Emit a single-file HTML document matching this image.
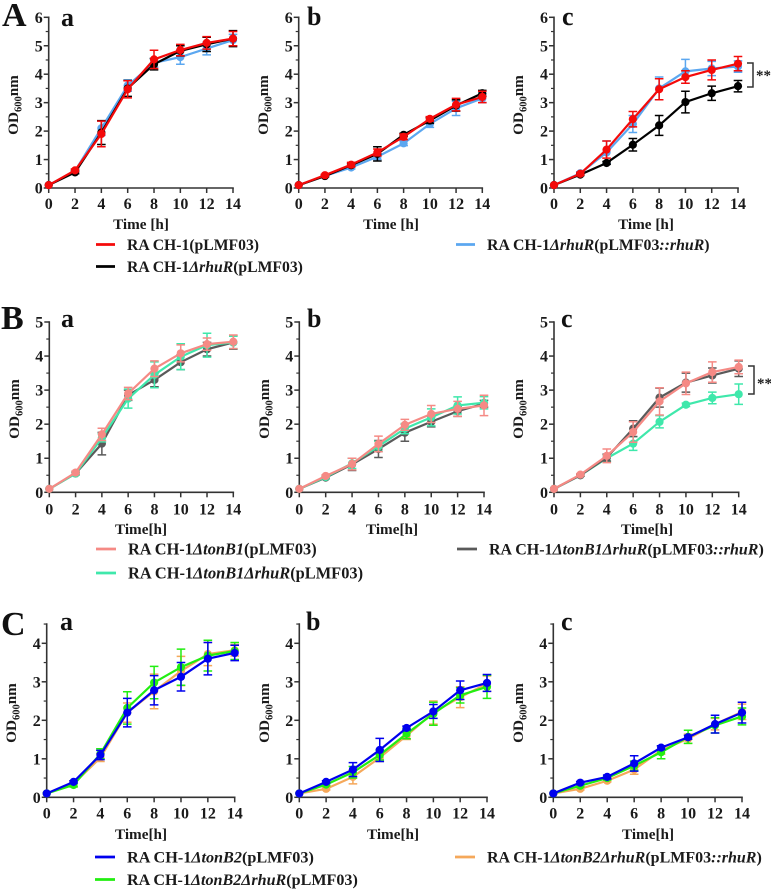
<!DOCTYPE html>
<html lang="en">
<head>
<meta charset="utf-8">
<title>Growth curves</title>
<style>
html,body{margin:0;padding:0;background:#fff;width:771px;height:890px;overflow:hidden}
svg{display:block}
text{font-family:"Liberation Serif",serif;font-weight:bold;fill:#1a1a1a}
.leg{font-size:15.7px}
.big{font-size:34px;fill:#111}
.small{font-size:26px;fill:#111}
.tick{font-size:16px;text-anchor:middle}
.ytick{font-size:16px;text-anchor:end}
.title{font-size:15.2px;text-anchor:middle}
</style>
</head>
<body>
<svg id="fig" xmlns="http://www.w3.org/2000/svg" width="771" height="890" viewBox="0 0 771 890">
  <text class="big" x="2" y="26">A</text>
  <text class="big" x="1" y="329">B</text>
  <text class="big" x="1" y="635">C</text>

  <text class="small" x="61" y="26">a</text>
  <text class="small" x="307" y="25">b</text>
  <text class="small" x="562" y="25">c</text>
  <text class="small" x="61" y="327">a</text>
  <text class="small" x="307" y="327">b</text>
  <text class="small" x="561" y="327">c</text>
  <text class="small" x="60" y="630">a</text>
  <text class="small" x="306" y="630">b</text>
  <text class="small" x="561" y="630">c</text>

  <g>
    <line x1="96" x2="115" y1="244.5" y2="244.5" stroke="#f40a0a" stroke-width="2.8"/>
    <text class="leg" x="127" y="250">RA CH-1(pLMF03)</text>
    <line x1="96" x2="115" y1="266.5" y2="266.5" stroke="#000" stroke-width="2.8"/>
    <text class="leg" x="127" y="272">RA CH-1<tspan font-style="italic">ΔrhuR</tspan>(pLMF03)</text>
    <line x1="456" x2="475" y1="244.5" y2="244.5" stroke="#5ba7f0" stroke-width="2.8"/>
    <text class="leg" style="font-size:15.85px" x="487" y="250">RA CH-1<tspan font-style="italic">ΔrhuR</tspan>(pLMF03<tspan font-style="italic">::rhuR</tspan>)</text>
  </g>
  <g>
    <line x1="96" x2="116" y1="549" y2="549" stroke="#f58a85" stroke-width="2.8"/>
    <text class="leg" style="font-size:16.35px" x="128" y="554.5">RA CH-1<tspan font-style="italic">ΔtonB1</tspan>(pLMF03)</text>
    <line x1="96" x2="116" y1="573" y2="573" stroke="#3fe8ab" stroke-width="2.8"/>
    <text class="leg" style="font-size:16.4px" x="128" y="578.5">RA CH-1<tspan font-style="italic">ΔtonB1ΔrhuR</tspan>(pLMF03)</text>
    <line x1="457" x2="477" y1="549" y2="549" stroke="#5a5a5a" stroke-width="2.8"/>
    <text class="leg" style="font-size:16px" x="489" y="554.5">RA CH-1<tspan font-style="italic">ΔtonB1ΔrhuR</tspan>(pLMF03<tspan font-style="italic">::rhuR</tspan>)</text>
  </g>
  <g>
    <line x1="95" x2="115" y1="857" y2="857" stroke="#0000ee" stroke-width="2.8"/>
    <text class="leg" style="font-size:16.2px" x="127" y="862.5">RA CH-1<tspan font-style="italic">ΔtonB2</tspan>(pLMF03)</text>
    <line x1="95" x2="115" y1="879.5" y2="879.5" stroke="#22ee11" stroke-width="2.8"/>
    <text class="leg" style="font-size:16.1px" x="127" y="885">RA CH-1<tspan font-style="italic">ΔtonB2ΔrhuR</tspan>(pLMF03)</text>
    <line x1="455" x2="475" y1="857" y2="857" stroke="#f5a85a" stroke-width="2.8"/>
    <text class="leg" style="font-size:16px" x="487" y="862.5">RA CH-1<tspan font-style="italic">ΔtonB2ΔrhuR</tspan>(pLMF03<tspan font-style="italic">::rhuR</tspan>)</text>
  </g>

  <g>
    <path d="M747 63H753V87H747" fill="none" stroke="#333" stroke-width="1.5"/>
    <text x="756" y="80" font-size="15">**</text>
  </g>
  <g>
    <path d="M748 366H754V394H748" fill="none" stroke="#333" stroke-width="1.5"/>
    <text x="757" y="388" font-size="15">**</text>
  </g>
</svg>
<script>
const hours = [0, 2, 4, 6, 8, 10, 12, 14];
const xTickLabels = ['0', '2', '4', '6', '8', '10', '12', '14'];
const yTicksA = [0, 1, 2, 3, 4, 5, 6];
const yTicksB = [0, 1, 2, 3, 4, 5];
const yTicksC = [0, 1, 2, 3, 4];

const redColor = '#f40a0a', blackColor = '#000000', skyColor = '#5ba7f0';
const salmonColor = '#f58a85', mintColor = '#3fe8ab', greyColor = '#5a5a5a';
const blueColor = '#0000ee', limeColor = '#22ee11', orangeColor = '#f5a85a';

/* Panel A a */
const Aa_sky = [0.1, 0.6, 2.1, 3.6, 4.4, 4.6, 4.9, 5.2];
const Aa_skyErr = [0, 0.05, 0.25, 0.2, 0.15, 0.25, 0.22, 0.2];
const Aa_black = [0.1, 0.55, 1.95, 3.5, 4.35, 4.82, 5.05, 5.25];
const Aa_blackErr = [0, 0.05, 0.42, 0.28, 0.2, 0.18, 0.25, 0.28];
const Aa_red = [0.1, 0.62, 1.9, 3.47, 4.52, 4.85, 5.1, 5.25];
const Aa_redErr = [0, 0.05, 0.45, 0.3, 0.32, 0.2, 0.22, 0.25];
/* Panel A b */
const Ab_sky = [0.1, 0.43, 0.72, 1.1, 1.57, 2.25, 2.8, 3.15];
const Ab_skyErr = [0, 0.03, 0.05, 0.1, 0.08, 0.12, 0.25, 0.15];
const Ab_black = [0.1, 0.42, 0.8, 1.2, 1.87, 2.37, 2.9, 3.33];
const Ab_blackErr = [0, 0.03, 0.05, 0.25, 0.05, 0.1, 0.2, 0.1];
const Ab_red = [0.1, 0.45, 0.82, 1.25, 1.8, 2.43, 2.93, 3.2];
const Ab_redErr = [0, 0.03, 0.08, 0.12, 0.1, 0.08, 0.22, 0.2];
/* Panel A c */
const Ac_sky = [0.1, 0.52, 1.25, 2.25, 3.5, 4.1, 4.2, 4.27];
const Ac_skyErr = [0, 0.05, 0.4, 0.3, 0.4, 0.42, 0.25, 0.2];
const Ac_black = [0.1, 0.47, 0.88, 1.52, 2.2, 3.02, 3.33, 3.58];
const Ac_blackErr = [0, 0.03, 0.05, 0.22, 0.35, 0.38, 0.25, 0.2];
const Ac_red = [0.1, 0.5, 1.35, 2.42, 3.47, 3.9, 4.15, 4.37];
const Ac_redErr = [0, 0.05, 0.3, 0.27, 0.37, 0.22, 0.35, 0.25];
/* Panel B a */
const Ba_grey = [0.1, 0.55, 1.43, 2.85, 3.3, 3.82, 4.2, 4.4];
const Ba_greyErr = [0, 0.04, 0.33, 0.15, 0.2, 0.22, 0.2, 0.2];
const Ba_mint = [0.1, 0.55, 1.6, 2.75, 3.45, 3.98, 4.32, 4.4];
const Ba_mintErr = [0, 0.04, 0.12, 0.28, 0.38, 0.38, 0.35, 0.18];
const Ba_salmon = [0.1, 0.58, 1.7, 2.9, 3.63, 4.08, 4.35, 4.42];
const Ba_salmonErr = [0, 0.04, 0.18, 0.18, 0.23, 0.25, 0.18, 0.2];
/* Panel B b */
const Bb_grey = [0.1, 0.43, 0.82, 1.27, 1.75, 2.07, 2.38, 2.6];
const Bb_greyErr = [0, 0.03, 0.18, 0.25, 0.25, 0.15, 0.15, 0.1];
const Bb_mint = [0.1, 0.45, 0.85, 1.35, 1.87, 2.2, 2.55, 2.63];
const Bb_mintErr = [0, 0.03, 0.15, 0.15, 0.15, 0.25, 0.25, 0.18];
const Bb_salmon = [0.1, 0.48, 0.83, 1.42, 1.98, 2.3, 2.45, 2.55];
const Bb_salmonErr = [0, 0.03, 0.17, 0.23, 0.16, 0.25, 0.22, 0.3];
/* Panel B c */
const Bc_mint = [0.1, 0.5, 1.0, 1.43, 2.07, 2.57, 2.77, 2.88];
const Bc_mintErr = [0, 0.03, 0.1, 0.2, 0.18, 0.05, 0.17, 0.3];
const Bc_grey = [0.1, 0.5, 1.02, 1.87, 2.78, 3.22, 3.43, 3.63];
const Bc_greyErr = [0, 0.03, 0.1, 0.23, 0.28, 0.28, 0.22, 0.23];
const Bc_salmon = [0.1, 0.52, 1.07, 1.77, 2.67, 3.2, 3.53, 3.68];
const Bc_salmonErr = [0, 0.03, 0.2, 0.3, 0.4, 0.33, 0.3, 0.2];
/* Panel C a */
const Ca_orange = [0.1, 0.35, 1.03, 2.2, 2.75, 3.28, 3.72, 3.82];
const Ca_orangeErr = [0, 0.08, 0.1, 0.25, 0.45, 0.38, 0.3, 0.15];
const Ca_lime = [0.1, 0.32, 1.13, 2.32, 2.98, 3.38, 3.68, 3.8];
const Ca_limeErr = [0, 0.05, 0.13, 0.42, 0.42, 0.47, 0.4, 0.22];
const Ca_blue = [0.1, 0.4, 1.1, 2.2, 2.78, 3.13, 3.6, 3.75];
const Ca_blueErr = [0, 0.03, 0.12, 0.37, 0.38, 0.37, 0.42, 0.2];
/* Panel C b */
const Cb_orange = [0.1, 0.22, 0.53, 1.03, 1.6, 2.2, 2.6, 2.95];
const Cb_orangeErr = [0, 0.03, 0.18, 0.1, 0.1, 0.3, 0.27, 0.2];
const Cb_lime = [0.1, 0.33, 0.65, 1.1, 1.65, 2.17, 2.65, 2.87];
const Cb_limeErr = [0, 0.03, 0.15, 0.13, 0.13, 0.3, 0.2, 0.3];
const Cb_blue = [0.1, 0.4, 0.72, 1.23, 1.8, 2.23, 2.78, 2.97];
const Cb_blueErr = [0, 0.03, 0.18, 0.3, 0.05, 0.18, 0.24, 0.22];
/* Panel C c */
const Cc_orange = [0.1, 0.22, 0.43, 0.72, 1.22, 1.52, 1.9, 2.22];
const Cc_orangeErr = [0, 0.03, 0.03, 0.12, 0.1, 0.12, 0.15, 0.2];
const Cc_lime = [0.1, 0.3, 0.5, 0.82, 1.17, 1.57, 1.87, 2.1];
const Cc_limeErr = [0, 0.03, 0.05, 0.12, 0.17, 0.17, 0.2, 0.22];
const Cc_blue = [0.1, 0.38, 0.53, 0.88, 1.29, 1.56, 1.9, 2.2];
const Cc_blueErr = [0, 0.03, 0.05, 0.2, 0.05, 0.05, 0.23, 0.27];

const panels = [
  {id:'a-a', frame:{x0:48.7,x14:233,y0:188,yRef:17.3,refVal:6,top:6,lab:13,labY:105,tx:141,ty:229,tick:21}, title:'Time [h]', yTicks:yTicksA, series:[['sky',skyColor,Aa_sky,Aa_skyErr],['black',blackColor,Aa_black,Aa_blackErr],['red',redColor,Aa_red,Aa_redErr]]},
  {id:'a-b', frame:{x0:298.7,x14:482.3,y0:188,yRef:17.3,refVal:6,top:6,lab:263,labY:105,tx:391,ty:229,tick:21}, title:'Time [h]', yTicks:yTicksA, series:[['sky',skyColor,Ab_sky,Ab_skyErr],['black',blackColor,Ab_black,Ab_blackErr],['red',redColor,Ab_red,Ab_redErr]]},
  {id:'a-c', frame:{x0:554,x14:738,y0:188,yRef:17.3,refVal:6,top:6,lab:518,labY:105,tx:646,ty:229,tick:21}, title:'Time [h]', yTicks:yTicksA, series:[['sky',skyColor,Ac_sky,Ac_skyErr],['black',blackColor,Ac_black,Ac_blackErr],['red',redColor,Ac_red,Ac_redErr]]},
  {id:'b-a', frame:{x0:49.3,x14:233.3,y0:492.3,yRef:322,refVal:5,top:5,lab:14,labY:409,tx:141,ty:534,tick:22}, title:'Time[h]', yTicks:yTicksB, series:[['grey',greyColor,Ba_grey,Ba_greyErr],['mint',mintColor,Ba_mint,Ba_mintErr],['salmon',salmonColor,Ba_salmon,Ba_salmonErr]]},
  {id:'b-b', frame:{x0:299.3,x14:484,y0:492.3,yRef:322,refVal:5,top:5,lab:264,labY:409,tx:392,ty:534,tick:22}, title:'Time[h]', yTicks:yTicksB, series:[['grey',greyColor,Bb_grey,Bb_greyErr],['mint',mintColor,Bb_mint,Bb_mintErr],['salmon',salmonColor,Bb_salmon,Bb_salmonErr]]},
  {id:'b-c', frame:{x0:554,x14:738.7,y0:492.3,yRef:322,refVal:5,top:5,lab:518,labY:409,tx:647,ty:534,tick:22}, title:'Time[h]', yTicks:yTicksB, series:[['mint',mintColor,Bc_mint,Bc_mintErr],['grey',greyColor,Bc_grey,Bc_greyErr],['salmon',salmonColor,Bc_salmon,Bc_salmonErr]]},
  {id:'c-a', frame:{x0:46.7,x14:234.7,y0:797.3,yRef:643.3,refVal:4,top:4.5,lab:11,labY:713,tx:141,ty:839,tick:21}, title:'Time[h]', yTicks:yTicksC, series:[['orange',orangeColor,Ca_orange,Ca_orangeErr],['lime',limeColor,Ca_lime,Ca_limeErr],['blue',blueColor,Ca_blue,Ca_blueErr]]},
  {id:'c-b', frame:{x0:299.3,x14:487,y0:797.3,yRef:643.3,refVal:4,top:4.5,lab:264,labY:713,tx:393,ty:839,tick:21}, title:'Time[h]', yTicks:yTicksC, series:[['orange',orangeColor,Cb_orange,Cb_orangeErr],['lime',limeColor,Cb_lime,Cb_limeErr],['blue',blueColor,Cb_blue,Cb_blueErr]]},
  {id:'c-c', frame:{x0:553.3,x14:742,y0:797.3,yRef:643.3,refVal:4,top:4.5,lab:518,labY:713,tx:648,ty:839,tick:21}, title:'Time[h]', yTicks:yTicksC, series:[['orange',orangeColor,Cc_orange,Cc_orangeErr],['lime',limeColor,Cc_lime,Cc_limeErr],['blue',blueColor,Cc_blue,Cc_blueErr]]}
];

const NS = 'http://www.w3.org/2000/svg';
const fig = document.getElementById('fig');
const AXIS = '#333333';

function make(tag, parent, props) {
  const el = document.createElementNS(NS, tag);
  for (const k in props) el.setAttribute(k, props[k]);
  parent.appendChild(el);
  return el;
}

panels.forEach(function (p) {
  const f = p.frame;
  const xScale = function (h) { return f.x0 + (f.x14 - f.x0) * h / 14; };
  const yScale = function (v) { return f.y0 - (f.y0 - f.yRef) * v / f.refVal; };

  const g = make('g', fig, {});
  
  

  const yAxis = make('line', g, {x1:f.x0, x2:f.x0, y1:yScale(f.top) - 0.8, y2:f.y0 + 0.8, stroke:AXIS, 'stroke-width':1.6});
  
  

  const xAxis = make('line', g, {x1:f.x0 - 0.8, x2:f.x14 + 0.8, y1:f.y0, y2:f.y0, stroke:AXIS, 'stroke-width':1.6});
  
  

  p.yTicks.forEach(function (v) {
    const tick = make('line', g, {x1:f.x0 - 5, x2:f.x0, y1:yScale(v), y2:yScale(v), stroke:AXIS, 'stroke-width':1.5});
    
    

    const label = make('text', g, {class:'ytick', x:f.x0 - 6, y:yScale(v) + 5.5});
    label.textContent = String(v);
    
    

    if (v + 0.5 <= f.top) {
      const minor = make('line', g, {x1:f.x0 - 3, x2:f.x0, y1:yScale(v + 0.5), y2:yScale(v + 0.5), stroke:AXIS, 'stroke-width':1.2});
      
      
    }
  });

  hours.forEach(function (h, i) {
    const tick = make('line', g, {x1:xScale(h), x2:xScale(h), y1:f.y0, y2:f.y0 + 5, stroke:AXIS, 'stroke-width':1.5});
    
    

    const label = make('text', g, {class:'tick', x:xScale(h), y:f.y0 + f.tick});
    label.textContent = xTickLabels[i];
    
    
  });

  const xTitle = make('text', g, {class:'title', x:f.tx, y:f.ty});
  xTitle.textContent = p.title;
  
  

  const yTitle = make('text', g, {class:'title', transform:'translate(' + (f.lab + 5) + ' ' + f.labY + ') rotate(-90)'});
  
  
  const t1 = make('tspan', yTitle, {});
  t1.textContent = 'OD';
  const t2 = make('tspan', yTitle, {'font-size':'10.5', dy:'3.5'});
  t2.textContent = '600';
  const t3 = make('tspan', yTitle, {dy:'-3.5'});
  t3.textContent = 'nm';

  p.series.forEach(function (s) {
    const name = s[0], color = s[1], vals = s[2], errs = s[3];
    const sg = make('g', g, {});
    
    

    vals.forEach(function (v, i) {
      if (errs[i] <= 0) return;
      const x = xScale(hours[i]);
      const eb = make('path', sg, {
        d: 'M' + (x - 4.3) + ' ' + yScale(v + errs[i]) + 'H' + (x + 4.3) +
           'M' + x + ' ' + yScale(v + errs[i]) + 'V' + yScale(v - errs[i]) +
           'M' + (x - 4.3) + ' ' + yScale(v - errs[i]) + 'H' + (x + 4.3),
        fill:'none', stroke:color, 'stroke-width':1.5
      });
      
      
    });

    const line = make('polyline', sg, {
      points: vals.map(function (v, i) { return xScale(hours[i]) + ',' + yScale(v); }).join(' '),
      fill:'none', stroke:color, 'stroke-width':2.2, 'stroke-linejoin':'round'
    });
    
    

    vals.forEach(function (v, i) {
      const c = make('circle', sg, {cx:xScale(hours[i]), cy:yScale(v), r:4.1, fill:color});
      
      
    });
  });
});
</script>
</body>
</html>
